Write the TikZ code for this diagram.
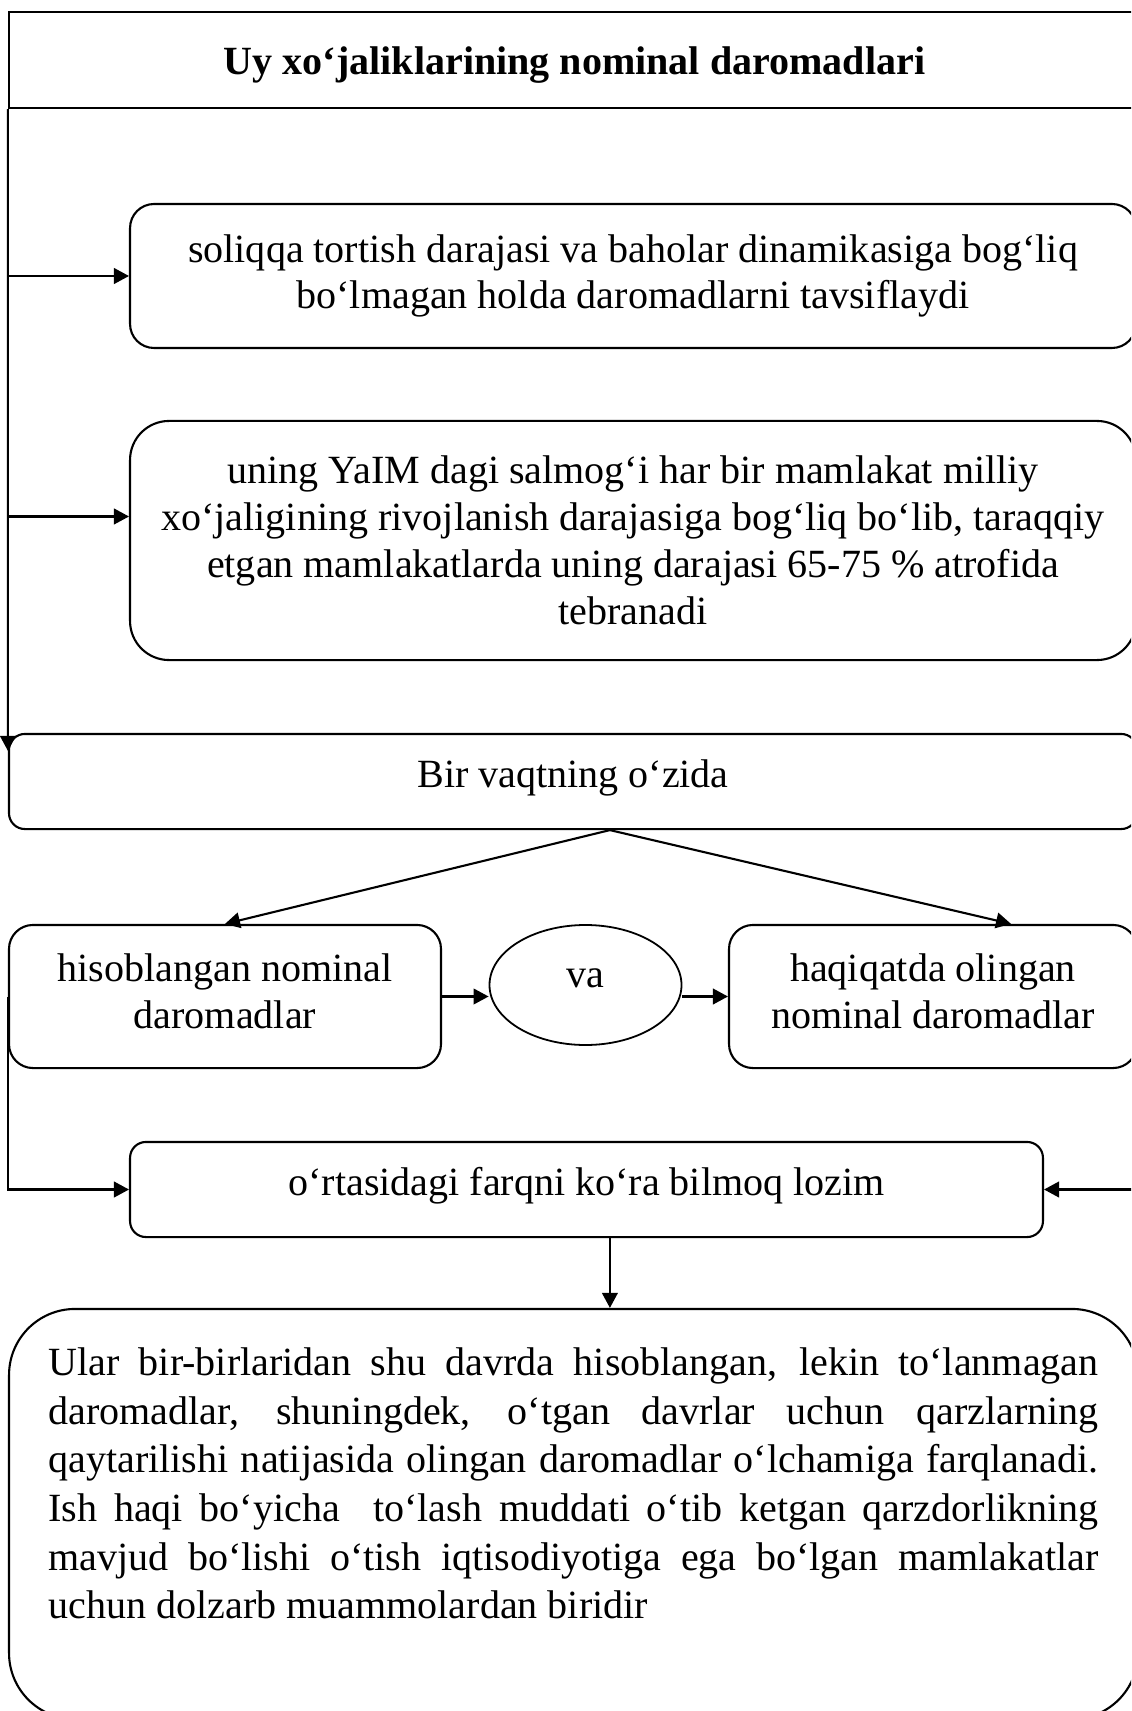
\documentclass[tikz,border=0pt]{standalone}
\usepackage{fontspec}
\setmainfont{Liberation Serif}
\usetikzlibrary{arrows.meta,shapes.geometric}
\hyphenpenalty=10000
\exhyphenpenalty=10000

\tikzstyle{card} = [draw, line width=0.7pt, align=center, inner sep=0pt, font=\fontsize{13.35pt}{15.6pt}\selectfont]
\tikzstyle{oval} = [draw, ellipse, line width=0.6pt, inner sep=0pt, font=\fontsize{13.35pt}{15.6pt}\selectfont]
\tikzstyle{flow} = [draw, line width=0.7pt, -{Triangle[length=5pt,width=5.2pt]}]

\begin{document}
\begin{tikzpicture}[x=0.33333pt, y=-0.33333pt]
\useasboundingbox (0,0) rectangle (1131,1711);
\clip (0,0) rectangle (1131,1711);

\node[card, minimum width=377pt, minimum height=32pt, text height=10pt, text depth=0pt,
      font=\bfseries\fontsize{13.35pt}{15.6pt}\selectfont] (title) at (574.5,60)
    {Uy xo‘jaliklarining nominal daromadlari};

\node[card, rounded corners=8pt, minimum width=335.3pt, minimum height=48pt] (soliq) at (633,276)
    {soliqqa tortish darajasi va baholar dinamikasiga bog‘liq\\
     bo‘lmagan holda daromadlarni tavsiflaydi};
\node[card, rounded corners=13pt, minimum width=335.3pt, minimum height=79.7pt] (yaim) at (633,540.5)
    {uning YaIM dagi salmog‘i har bir mamlakat milliy\\
     xo‘jaligining rivojlanish darajasiga bog‘liq bo‘lib, taraqqiy\\
     etgan mamlakatlarda uning darajasi 65-75 \% atrofida\\
     tebranadi};
\node[card, rounded corners=5.3pt, minimum width=376pt, minimum height=31.7pt, text depth=5.3pt] (bir) at (573,781.5)
    {Bir vaqtning o‘zida};

\node[card, rounded corners=8pt, minimum width=144pt, minimum height=47.7pt, text depth=3.6pt] (hisob) at (225,996.5)
    {hisoblangan nominal\\ daromadlar};
\node[oval, minimum width=64pt, minimum height=40pt, text depth=4.4pt] (va) at (585.5,985) {va};
\node[card, rounded corners=8pt, minimum width=136pt, minimum height=47.7pt, text depth=3.6pt] (haqiq) at (933,996.5)
    {haqiqatda olingan\\ nominal daromadlar};

\node[card, rounded corners=5.3pt, minimum width=304.3pt, minimum height=31.7pt, text depth=5.3pt] (farq) at (586.5,1189.5)
    {o‘rtasidagi farqni ko‘ra bilmoq lozim};
\node[card, rounded corners=22pt, minimum width=376.3pt, minimum height=136.7pt,
      text width=350pt, text depth=101.5pt, align=justify,
      font=\fontsize{13.35pt}{16.2pt}\selectfont] (xulosa) at (573.5,1514)
    {Ular bir-birlaridan shu davrda hisoblangan, lekin to‘lanmagan\linebreak
     daromadlar, shuningdek, o‘tgan davrlar uchun qarzlarning\linebreak
     qaytarilishi natijasida olingan daromadlar o‘lchamiga farqlanadi.\linebreak
     Ish haqi bo‘yicha\ \ to‘lash muddati o‘tib ketgan qarzdorlikning\linebreak
     mavjud bo‘lishi o‘tish iqtisodiyotiga ega bo‘lgan mamlakatlar\linebreak
     uchun dolzarb muammolardan biridir};

% chap tomondagi asosiy chiziq
\draw[flow] (title.south west) -- ([yshift=-6pt]bir.north west);
\draw[flow] (title.south west |- soliq.west) -- (soliq.west);
\coordinate (k2) at ([yshift=8pt]yaim.west);
\draw[flow] (title.south west |- k2) -- (k2);

\coordinate (b0) at ([xshift=12.3pt]bir.south);
\draw[flow] (b0) -- (hisob.north);
\draw[flow] (b0) -- ([xshift=26pt]haqiq.north);
\draw[flow] (hisob.east) -- (hisob.east -| va.west);
\draw[flow] (hisob.east -| va.east) -- (haqiq.west);

\draw[flow] (hisob.west) |- (farq.west);
\draw[flow] (haqiq.east) |- (farq.east);
\coordinate (f0) at ([xshift=7.8pt]farq.south);
\draw[flow] (f0) -- (f0 |- xulosa.north);
\end{tikzpicture}
\end{document}
